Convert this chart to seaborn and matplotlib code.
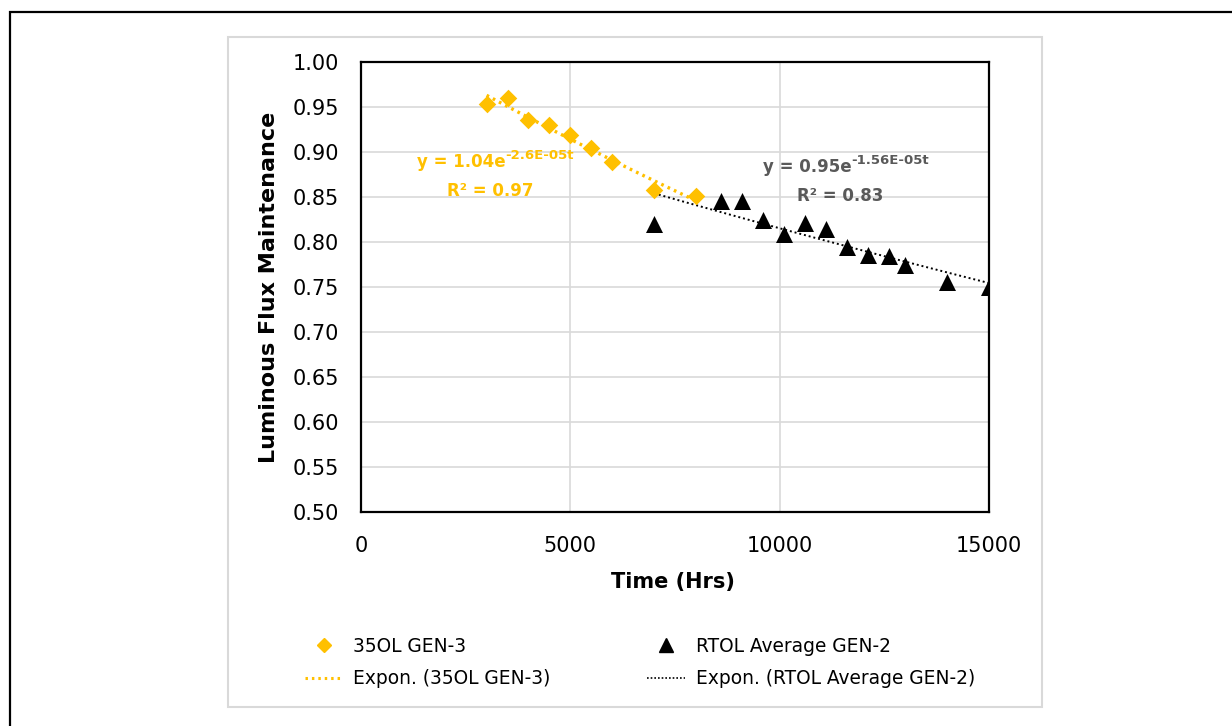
import numpy as np
import pandas as pd
import matplotlib
matplotlib.use("Agg")
import matplotlib.pyplot as plt
import seaborn as sns
from matplotlib.patches import Rectangle
from matplotlib.lines import Line2D

# ---- data ----
gen3_hours = [3000, 3500, 4000, 4500, 5000, 5500, 6000, 7000, 8000]
gen3_lfm = [0.953, 0.960, 0.936, 0.930, 0.919, 0.904, 0.889, 0.858, 0.851]
gen2_hours = [7000, 8600, 9100, 9600, 10100, 10600, 11100, 11600, 12100, 12600, 13000, 14000, 15000]
gen2_lfm = [0.820, 0.846, 0.846, 0.824, 0.809, 0.821, 0.814, 0.795, 0.786, 0.784, 0.774, 0.756, 0.750]
gen3_name = "35OL GEN-3"
gen2_name = "RTOL Average GEN-2"
gen3_eq = ("y = 1.04e", "-2.6E-05t", "R\u00b2 = 0.97")
gen2_eq = ("y = 0.95e", "-1.56E-05t", "R\u00b2 = 0.83")
x_ticks = [0, 5000, 10000, 15000]
y_ticks = [0.50, 0.55, 0.60, 0.65, 0.70, 0.75, 0.80, 0.85, 0.90, 0.95, 1.00]

YELLOW = "#FFC000"
GREY_TXT = "#595959"
GRID = "#D9D9D9"

sns.set_style("white")
plt.rcParams["font.family"] = ["DejaVu Sans"]
plt.rcParams["text.color"] = "black"
plt.rcParams["axes.labelcolor"] = "black"

W, H = 1232, 726
fig = plt.figure(figsize=(W / 100, H / 100), dpi=100)
ax = fig.add_axes([361 / W, 1 - 512 / H, (989 - 361) / W, (512 - 62) / H])

df3 = pd.DataFrame({"t": gen3_hours, "v": gen3_lfm})
df2 = pd.DataFrame({"t": gen2_hours, "v": gen2_lfm})


def expfit(df):
    b, a = np.polyfit(df["t"], np.log(df["v"]), 1)
    tt = np.linspace(df["t"].min(), df["t"].max(), 100)
    return pd.DataFrame({"t": tt, "v": np.exp(a) * np.exp(b * tt)})


fit3 = expfit(df3)
fit2 = expfit(df2)

sns.lineplot(data=fit3, x="t", y="v", ax=ax, color=YELLOW, lw=2.4,
             linestyle=(0, (0.8, 1.3)), zorder=3)
sns.lineplot(data=fit2, x="t", y="v", ax=ax, color="black", lw=1.4,
             linestyle=(0, (1, 1.5)), zorder=3)
sns.scatterplot(data=df3, x="t", y="v", ax=ax, marker="D", s=80, color=YELLOW,
                edgecolor=YELLOW, linewidth=0, zorder=4)
sns.scatterplot(data=df2, x="t", y="v", ax=ax, marker="^", s=150, color="black",
                edgecolor="black", linewidth=0, zorder=4)

ax.set_xlim(0, 15000)
ax.set_ylim(0.5, 1.0)
ax.set_xticks(x_ticks)
ax.set_yticks(y_ticks)
ax.set_yticklabels([f"{v:.2f}" for v in y_ticks])
ax.grid(True, color=GRID, lw=1.2)
ax.set_axisbelow(True)
for s in ax.spines.values():
    s.set_visible(True)
    s.set_color("black")
    s.set_linewidth(1.6)
ax.tick_params(axis="both", direction="out", length=6, width=1.6, color="black",
               labelsize=15, labelcolor="black")
ax.tick_params(axis="y", pad=10)
ax.tick_params(axis="x", pad=11)
ax.tick_params(top=False, right=False)

ax.set_xlabel("Time (Hrs)", fontsize=15, fontweight="bold", va="center", color="black")
ax.set_ylabel("Luminous Flux Maintenance", fontsize=16, fontweight="bold", va="center",
              color="black")
ax.xaxis.set_label_coords(0.496, -0.1556)
ax.yaxis.set_label_coords(-0.1465, 0.5)

# equations
def equation(x, y, parts, color):
    base, sup, r2 = parts
    t1 = ax.text(x, y, base, transform=None, fontsize=12, fontweight="bold",
                 color=color, ha="left", va="baseline")
    ax.annotate(sup, xy=(1.0, 0.5), xycoords=t1, fontsize=9.5, fontweight="bold",
                color=color, ha="left", va="bottom")
    return t1

equation(417, H - 167, gen3_eq, YELLOW)
ax.text(490, H - 196, gen3_eq[2], transform=None, fontsize=12, fontweight="bold",
        color=YELLOW, ha="center", va="baseline")
equation(763, H - 172, gen2_eq, GREY_TXT)
ax.text(840, H - 201, gen2_eq[2], transform=None, fontsize=12, fontweight="bold",
        color=GREY_TXT, ha="center", va="baseline")

# legend
handles = [
    Line2D([], [], marker="D", ls="none", color=YELLOW, markersize=7.6),
    Line2D([], [], color=YELLOW, lw=2.2, ls=(0, (0.8, 1.3))),
    Line2D([], [], marker="^", ls="none", color="black", markersize=9.4),
    Line2D([], [], color="black", lw=1.2, ls=(0, (1, 1.2))),
]
labels = [gen3_name, f"Expon. ({gen3_name})", gen2_name, f"Expon. ({gen2_name})"]
leg = fig.legend(handles, labels, ncol=2, loc="center", bbox_to_anchor=(640 / W, 1 - 662.5 / H),
                 frameon=False, fontsize=13.4, handlelength=2.0, columnspacing=5.2,
                 labelspacing=0.72, handletextpad=0.6, borderpad=0, borderaxespad=0,
                 labelcolor="black")

# frames
fig.add_artist(Rectangle((228 / W, 1 - 707 / H), (1042 - 228) / W, (707 - 37) / H,
                         transform=fig.transFigure, fill=False, ec=GRID, lw=1.5))
fig.add_artist(Rectangle((10 / W, -0.2), 1.2, 1 - 12 / H + 0.2,
                         transform=fig.transFigure, fill=False, ec="black", lw=1.6))

fig.savefig("out.png", dpi=100)
